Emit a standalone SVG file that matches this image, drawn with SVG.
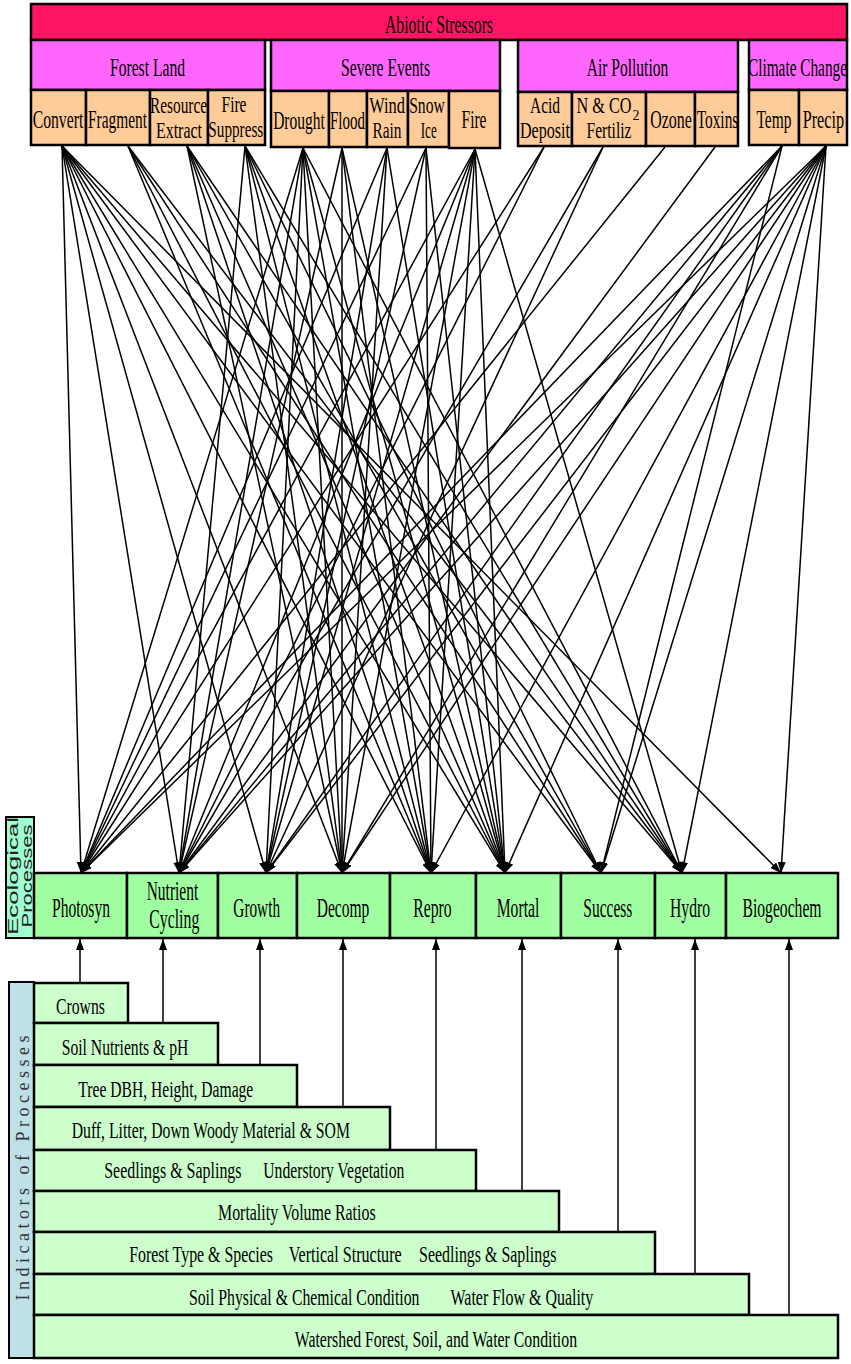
<svg xmlns="http://www.w3.org/2000/svg" width="851" height="1364" viewBox="0 0 851 1364">
<defs>
<marker id="ah" markerUnits="userSpaceOnUse" markerWidth="11" markerHeight="8" refX="11" refY="4" orient="auto">
<path d="M0,0 L11,4 L0,8 z" fill="#000"/>
</marker>
<style>
.box{stroke:#000;stroke-width:2.5}
.top{fill:#FF1466}
.grp{fill:#FF66FF}
.sub{fill:#FFCC99}
.proc{fill:#A0FFA0}
.ind{fill:#CCFFCC}
.t{font-family:"Liberation Serif","Times New Roman",serif;fill:#000;text-anchor:middle}
.f26{font-size:26px}
.f25{font-size:24px}
.f27{font-size:27px}
.c{stroke:#000;stroke-width:1.5;fill:none;marker-end:url(#ah)}
.u{stroke:#000;stroke-width:1.5;fill:none;marker-end:url(#ah)}
</style>
</defs>
<rect width="851" height="1364" fill="#fff"/>

<g id="abiotic-stressors">
<rect class="box top" x="31" y="4" width="816" height="36"/>
<text class="t f26" x="439" y="33" textLength="108" lengthAdjust="spacingAndGlyphs">Abiotic Stressors</text>
</g>

<g id="forest-land">
<rect class="box grp" x="31" y="40" width="234" height="50"/>
<text class="t f26" x="147.5" y="76" textLength="75" lengthAdjust="spacingAndGlyphs">Forest Land</text>
</g>
<g id="severe-events">
<rect class="box grp" x="271" y="40" width="229" height="51"/>
<text class="t f26" x="385.5" y="76" textLength="89" lengthAdjust="spacingAndGlyphs">Severe Events</text>
</g>
<g id="air-pollution">
<rect class="box grp" x="518" y="40" width="220" height="52"/>
<text class="t f26" x="627.5" y="76" textLength="81.6" lengthAdjust="spacingAndGlyphs">Air Pollution</text>
</g>
<g id="climate-change">
<rect class="box grp" x="749" y="40" width="98" height="50"/>
<text class="t f26" x="797.5" y="76" textLength="99" lengthAdjust="spacingAndGlyphs">Climate Change</text>
</g>

<g id="convert">
<rect class="box sub" x="31" y="90" width="55" height="55"/>
<text class="t f26" x="58" y="128" textLength="50.6" lengthAdjust="spacingAndGlyphs">Convert</text>
</g>
<g id="fragment">
<rect class="box sub" x="86" y="90" width="64" height="55"/>
<text class="t f26" x="117.5" y="128" textLength="59" lengthAdjust="spacingAndGlyphs">Fragment</text>
</g>
<g id="resource-extract">
<rect class="box sub" x="150" y="90" width="58" height="55"/>
<text class="t f25" x="178.5" y="113" textLength="57" lengthAdjust="spacingAndGlyphs">Resource</text>
<text class="t f25" x="179" y="138" textLength="46" lengthAdjust="spacingAndGlyphs">Extract</text>
</g>
<g id="fire-suppress">
<rect class="box sub" x="208" y="90" width="57" height="55"/>
<text class="t f25" x="234" y="112" textLength="25" lengthAdjust="spacingAndGlyphs">Fire</text>
<text class="t f25" x="235.8" y="137" textLength="55" lengthAdjust="spacingAndGlyphs">Suppress</text>
</g>

<g id="drought">
<rect class="box sub" x="271" y="91" width="58" height="56"/>
<text class="t f26" x="299" y="129" textLength="51.7" lengthAdjust="spacingAndGlyphs">Drought</text>
</g>
<g id="flood">
<rect class="box sub" x="329" y="91" width="38" height="56"/>
<text class="t f26" x="347.5" y="129" textLength="35" lengthAdjust="spacingAndGlyphs">Flood</text>
</g>
<g id="wind-rain">
<rect class="box sub" x="367" y="91" width="41" height="56"/>
<text class="t f25" x="387" y="113" textLength="35.7" lengthAdjust="spacingAndGlyphs">Wind</text>
<text class="t f25" x="387" y="138" textLength="29" lengthAdjust="spacingAndGlyphs">Rain</text>
</g>
<g id="snow-ice">
<rect class="box sub" x="408" y="91" width="41" height="56"/>
<text class="t f25" x="427" y="113" textLength="35.7" lengthAdjust="spacingAndGlyphs">Snow</text>
<text class="t f25" x="428.7" y="138" textLength="16" lengthAdjust="spacingAndGlyphs">Ice</text>
</g>
<g id="fire">
<rect class="box sub" x="449" y="91" width="51" height="57"/>
<text class="t f26" x="474" y="128" textLength="25" lengthAdjust="spacingAndGlyphs">Fire</text>
</g>

<g id="acid-deposit">
<rect class="box sub" x="518" y="92" width="54" height="54"/>
<text class="t f25" x="545" y="113" textLength="30" lengthAdjust="spacingAndGlyphs">Acid</text>
<text class="t f25" x="545" y="138" textLength="50" lengthAdjust="spacingAndGlyphs">Deposit</text>
</g>
<g id="n-co2-fertiliz">
<rect class="box sub" x="572" y="92" width="74" height="54"/>
<text class="t f25" x="604" y="113" textLength="55" lengthAdjust="spacingAndGlyphs">N &amp; CO</text>
<text class="t" x="636" y="120" style="font-size:14px">2</text>
<text class="t f25" x="609" y="138" textLength="45" lengthAdjust="spacingAndGlyphs">Fertiliz</text>
</g>
<g id="ozone">
<rect class="box sub" x="646" y="92" width="49" height="54"/>
<text class="t f26" x="671" y="128" textLength="41.7" lengthAdjust="spacingAndGlyphs">Ozone</text>
</g>
<g id="toxins">
<rect class="box sub" x="695" y="92" width="43" height="54"/>
<text class="t f26" x="717.5" y="128" textLength="41.6" lengthAdjust="spacingAndGlyphs">Toxins</text>
</g>

<g id="temp">
<rect class="box sub" x="749" y="90" width="50" height="55"/>
<text class="t f26" x="774" y="128" textLength="35" lengthAdjust="spacingAndGlyphs">Temp</text>
</g>
<g id="precip">
<rect class="box sub" x="799" y="90" width="48" height="55"/>
<text class="t f26" x="823.4" y="128" textLength="41.3" lengthAdjust="spacingAndGlyphs">Precip</text>
</g>

<g id="connectors">
<!-- Convert -->
<line class="c" x1="62" y1="146" x2="81" y2="873"/>
<line class="c" x1="62" y1="146" x2="179" y2="873"/>
<line class="c" x1="62" y1="146" x2="266" y2="873"/>
<line class="c" x1="62" y1="146" x2="342" y2="873"/>
<line class="c" x1="62" y1="146" x2="431" y2="873"/>
<line class="c" x1="62" y1="146" x2="505" y2="873"/>
<line class="c" x1="62" y1="146" x2="601" y2="873"/>
<line class="c" x1="62" y1="146" x2="682" y2="873"/>
<line class="c" x1="62" y1="146" x2="781" y2="873"/>
<!-- Fragment -->
<line class="c" x1="128" y1="146" x2="431" y2="873"/>
<line class="c" x1="128" y1="146" x2="505" y2="873"/>
<line class="c" x1="128" y1="146" x2="601" y2="873"/>
<line class="c" x1="128" y1="146" x2="682" y2="873"/>
<!-- Resource Extract -->
<line class="c" x1="187" y1="146" x2="342" y2="873"/>
<line class="c" x1="187" y1="146" x2="431" y2="873"/>
<line class="c" x1="187" y1="146" x2="505" y2="873"/>
<line class="c" x1="187" y1="146" x2="601" y2="873"/>
<line class="c" x1="187" y1="146" x2="682" y2="873"/>
<!-- Fire Suppress -->
<line class="c" x1="245" y1="146" x2="179" y2="873"/>
<line class="c" x1="245" y1="146" x2="342" y2="873"/>
<line class="c" x1="245" y1="146" x2="431" y2="873"/>
<line class="c" x1="245" y1="146" x2="505" y2="873"/>
<line class="c" x1="245" y1="146" x2="601" y2="873"/>
<line class="c" x1="245" y1="146" x2="682" y2="873"/>
<!-- Drought -->
<line class="c" x1="303" y1="148" x2="81" y2="873"/>
<line class="c" x1="303" y1="148" x2="179" y2="873"/>
<line class="c" x1="303" y1="148" x2="266" y2="873"/>
<line class="c" x1="303" y1="148" x2="342" y2="873"/>
<line class="c" x1="303" y1="148" x2="431" y2="873"/>
<line class="c" x1="303" y1="148" x2="505" y2="873"/>
<line class="c" x1="303" y1="148" x2="682" y2="873"/>
<!-- Flood -->
<line class="c" x1="342" y1="148" x2="179" y2="873"/>
<line class="c" x1="342" y1="148" x2="342" y2="873"/>
<line class="c" x1="342" y1="148" x2="431" y2="873"/>
<line class="c" x1="342" y1="148" x2="505" y2="873"/>
<!-- Wind Rain -->
<line class="c" x1="387" y1="148" x2="81" y2="873"/>
<line class="c" x1="387" y1="148" x2="266" y2="873"/>
<line class="c" x1="387" y1="148" x2="342" y2="873"/>
<line class="c" x1="387" y1="148" x2="505" y2="873"/>
<!-- Snow Ice -->
<line class="c" x1="426" y1="148" x2="81" y2="873"/>
<line class="c" x1="426" y1="148" x2="266" y2="873"/>
<line class="c" x1="426" y1="148" x2="431" y2="873"/>
<line class="c" x1="426" y1="148" x2="505" y2="873"/>
<!-- Fire -->
<line class="c" x1="475" y1="149" x2="81" y2="873"/>
<line class="c" x1="475" y1="149" x2="179" y2="873"/>
<line class="c" x1="475" y1="149" x2="266" y2="873"/>
<line class="c" x1="475" y1="149" x2="342" y2="873"/>
<line class="c" x1="475" y1="149" x2="431" y2="873"/>
<line class="c" x1="475" y1="149" x2="505" y2="873"/>
<line class="c" x1="475" y1="149" x2="682" y2="873"/>
<!-- Acid Deposit -->
<line class="c" x1="544" y1="147" x2="81" y2="873"/>
<line class="c" x1="544" y1="147" x2="179" y2="873"/>
<!-- N & CO2 -->
<line class="c" x1="603" y1="147" x2="179" y2="873"/>
<line class="c" x1="603" y1="147" x2="266" y2="873"/>
<!-- Ozone -->
<line class="c" x1="665" y1="147" x2="81" y2="873"/>
<!-- Toxins -->
<line class="c" x1="715" y1="147" x2="179" y2="873"/>
<!-- Temp -->
<line class="c" x1="782" y1="146" x2="81" y2="873"/>
<line class="c" x1="782" y1="146" x2="179" y2="873"/>
<line class="c" x1="782" y1="146" x2="266" y2="873"/>
<line class="c" x1="782" y1="146" x2="342" y2="873"/>
<line class="c" x1="782" y1="146" x2="601" y2="873"/>
<!-- Precip -->
<line class="c" x1="826" y1="146" x2="81" y2="873"/>
<line class="c" x1="826" y1="146" x2="179" y2="873"/>
<line class="c" x1="826" y1="146" x2="266" y2="873"/>
<line class="c" x1="826" y1="146" x2="342" y2="873"/>
<line class="c" x1="826" y1="146" x2="431" y2="873"/>
<line class="c" x1="826" y1="146" x2="505" y2="873"/>
<line class="c" x1="826" y1="146" x2="601" y2="873"/>
<line class="c" x1="826" y1="146" x2="682" y2="873"/>
<line class="c" x1="826" y1="146" x2="781" y2="873"/>
<!-- indicators to processes -->
<line class="u" x1="80" y1="983" x2="80" y2="939"/>
<line class="u" x1="163" y1="1023" x2="163" y2="939"/>
<line class="u" x1="260" y1="1065" x2="260" y2="939"/>
<line class="u" x1="343" y1="1107" x2="343" y2="939"/>
<line class="u" x1="436" y1="1150" x2="436" y2="939"/>
<line class="u" x1="522" y1="1191" x2="522" y2="939"/>
<line class="u" x1="618" y1="1232" x2="618" y2="939"/>
<line class="u" x1="695" y1="1274" x2="695" y2="939"/>
<line class="u" x1="789" y1="1315" x2="789" y2="939"/>
</g>

<g id="ecological-processes-label">
<rect x="6" y="817" width="28" height="121" fill="#A0FFD0" stroke="#000" stroke-width="2"/>
<text x="18" y="876" transform="rotate(-90 18 876)" style="font-family:'Liberation Sans',Arial,sans-serif;font-size:15px;text-anchor:middle;fill:#222" textLength="118" lengthAdjust="spacingAndGlyphs">Ecological</text>
<text x="32" y="876" transform="rotate(-90 32 876)" style="font-family:'Liberation Sans',Arial,sans-serif;font-size:15px;text-anchor:middle;fill:#222" textLength="103" lengthAdjust="spacingAndGlyphs">Processes</text>
</g>

<g id="photosyn"><rect class="box proc" x="34" y="873" width="93" height="65"/><text class="t f27" x="81" y="917" textLength="58" lengthAdjust="spacingAndGlyphs">Photosyn</text></g>
<g id="nutrient-cycling"><rect class="box proc" x="127" y="873" width="91" height="65"/><text class="t f27" x="172.5" y="900" textLength="51.6" lengthAdjust="spacingAndGlyphs">Nutrient</text><text class="t f27" x="174.3" y="928" textLength="50" lengthAdjust="spacingAndGlyphs">Cycling</text></g>
<g id="growth"><rect class="box proc" x="218" y="873" width="79" height="65"/><text class="t f27" x="256.7" y="917" textLength="46.7" lengthAdjust="spacingAndGlyphs">Growth</text></g>
<g id="decomp"><rect class="box proc" x="297" y="873" width="93" height="65"/><text class="t f27" x="343" y="917" textLength="52.6" lengthAdjust="spacingAndGlyphs">Decomp</text></g>
<g id="repro"><rect class="box proc" x="390" y="873" width="86" height="65"/><text class="t f27" x="432.5" y="917" textLength="38.4" lengthAdjust="spacingAndGlyphs">Repro</text></g>
<g id="mortal"><rect class="box proc" x="476" y="873" width="85" height="65"/><text class="t f27" x="518" y="917" textLength="42.6" lengthAdjust="spacingAndGlyphs">Mortal</text></g>
<g id="success"><rect class="box proc" x="561" y="873" width="94" height="65"/><text class="t f27" x="607.8" y="917" textLength="49" lengthAdjust="spacingAndGlyphs">Success</text></g>
<g id="hydro"><rect class="box proc" x="655" y="873" width="71" height="65"/><text class="t f27" x="690" y="917" textLength="40" lengthAdjust="spacingAndGlyphs">Hydro</text></g>
<g id="biogeochem"><rect class="box proc" x="726" y="873" width="112" height="65"/><text class="t f27" x="782" y="917" textLength="79" lengthAdjust="spacingAndGlyphs">Biogeochem</text></g>

<g id="indicators-label">
<rect x="9" y="982" width="25" height="376" fill="#BEE0E6" stroke="#000" stroke-width="2"/>
<text x="29" y="1168" transform="rotate(-90 29 1168)" style="font-family:'Liberation Serif','Times New Roman',serif;font-size:18px;text-anchor:middle;fill:#333" textLength="265" lengthAdjust="spacing">Indicators of Processes</text>
</g>

<g id="ind-crowns"><rect class="box ind" x="34" y="983" width="94" height="40"/><text class="t f25" x="80.5" y="1014" textLength="49" lengthAdjust="spacingAndGlyphs">Crowns</text></g>
<g id="ind-soil-nutrients"><rect class="box ind" x="34" y="1023" width="184" height="42"/><text class="t f25" x="125" y="1055" textLength="126.6" lengthAdjust="spacingAndGlyphs">Soil Nutrients &amp; pH</text></g>
<g id="ind-tree-dbh"><rect class="box ind" x="34" y="1065" width="263" height="42"/><text class="t f25" x="165.8" y="1097" textLength="175" lengthAdjust="spacingAndGlyphs">Tree DBH, Height, Damage</text></g>
<g id="ind-duff"><rect class="box ind" x="34" y="1107" width="356" height="43"/><text class="t f25" x="210.8" y="1138" textLength="278.3" lengthAdjust="spacingAndGlyphs">Duff, Litter, Down Woody Material &amp; SOM</text></g>
<g id="ind-seedlings"><rect class="box ind" x="34" y="1150" width="442" height="41"/><text class="t f25" x="172.9" y="1178" textLength="137.3" lengthAdjust="spacingAndGlyphs">Seedlings &amp; Saplings</text><text class="t f25" x="333.8" y="1178" textLength="141.1" lengthAdjust="spacingAndGlyphs">Understory Vegetation</text></g>
<g id="ind-mortality"><rect class="box ind" x="34" y="1191" width="525" height="41"/><text class="t f25" x="296.8" y="1220" textLength="157.6" lengthAdjust="spacingAndGlyphs">Mortality Volume Ratios</text></g>
<g id="ind-forest-type"><rect class="box ind" x="34" y="1232" width="621" height="42"/><text class="t f25" x="201.1" y="1262" textLength="143.8" lengthAdjust="spacingAndGlyphs">Forest Type &amp; Species</text><text class="t f25" x="345.2" y="1262" textLength="112.9" lengthAdjust="spacingAndGlyphs">Vertical Structure</text><text class="t f25" x="487.7" y="1262" textLength="137.3" lengthAdjust="spacingAndGlyphs">Seedlings &amp; Saplings</text></g>
<g id="ind-soil-physical"><rect class="box ind" x="34" y="1274" width="715" height="41"/><text class="t f25" x="304.2" y="1305" textLength="230.6" lengthAdjust="spacingAndGlyphs">Soil Physical &amp; Chemical Condition</text><text class="t f25" x="521.9" y="1305" textLength="142.7" lengthAdjust="spacingAndGlyphs">Water Flow &amp; Quality</text></g>
<g id="ind-watershed"><rect class="box ind" x="34" y="1315" width="804" height="43"/><text class="t f25" x="435.9" y="1347" textLength="282.3" lengthAdjust="spacingAndGlyphs">Watershed Forest, Soil, and Water Condition</text></g>
</svg>
